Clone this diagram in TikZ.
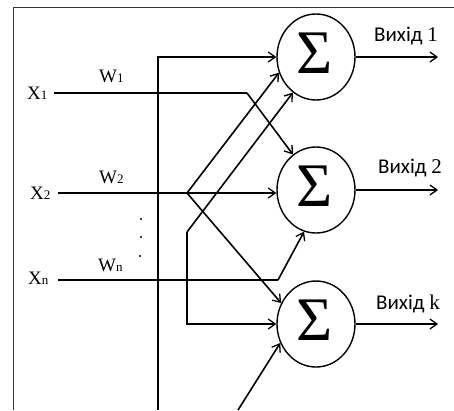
\documentclass[tikz,border=0pt]{standalone}
\usepackage{fontspec}
\setmainfont{Liberation Serif}
\newfontfamily\labelfont{Carlito}
\usetikzlibrary{arrows.meta,shapes.geometric}

\tikzset{
  wire/.style={line width=1.6pt, black, line join=miter},
  arr/.style={wire, -{Straight Barb[length=7pt,width=10pt,line width=1.3pt]}},
  frameline/.style={line width=0.8pt, black!80},
  sumnode/.style={ellipse, draw, line width=1.4pt, minimum width=78pt,
    minimum height=86pt, inner sep=0pt},
  sumsign/.style={font=\fontsize{62}{62}\selectfont, inner sep=0pt},
  inlabel/.style={anchor=base west, inner sep=0pt, font=\fontsize{19}{19}\selectfont},
  outlabel/.style={anchor=base west, inner sep=0pt, font=\fontsize{21}{21}\selectfont},
  dotmark/.style={circle, fill=black, inner sep=0pt, minimum size=2.4pt}
}
\newcommand{\sub}[1]{{\fontsize{13}{13}\selectfont #1}}

\begin{document}
\begin{tikzpicture}[x=1pt, y=-1pt]
  \useasboundingbox (0,0) rectangle (454,410);

  % frame
  \draw[frameline] (13,410) -- (13,7) -- (454,7);

  % summation units
  \node[sumnode] (c1) at (316,57) {};
  \node[sumnode] (c2) at (316,190) {};
  \node[sumnode] (c3) at (316,324) {};
  \node[sumsign] (s1) at (314.5,53) {Σ};
  \node[sumsign] (s2) at (314.5,186) {Σ};
  \node[sumsign] (s3) at (314.5,320) {Σ};

  % inputs and weights
  \node[inlabel] (x1) at (27,99) {X\sub{1}};
  \node[inlabel] (x2) at (30,199) {X\sub{2}};
  \node[inlabel] (xn) at (28,284) {X\sub{n}};
  \node[inlabel] (w1) at (99,82) {W\sub{1}};
  \node[inlabel] (w2) at (99,183) {W\sub{2}};
  \node[inlabel] (wn) at (98,271) {W\sub{n}};
  \node[dotmark] (d1) at (141,219) {};
  \node[dotmark] (d2) at (141,237) {};
  \node[dotmark] (d3) at (140,256) {};

  % routing points
  \coordinate (x1s) at (54,93);
  \coordinate (x1b) at (247,93);
  \coordinate (x2s) at (58,193);
  \coordinate (x2j) at (187,193);
  \coordinate (xns) at (58,280);
  \coordinate (xnb) at (278,280);
  \coordinate (v1b) at (158,410);
  \coordinate (v1t) at (158,57);
  \coordinate (v2t) at (187,232);
  \coordinate (v2b) at (187,324);
  \coordinate (lowin) at (238,410);

  % connections
  \draw[wire] (x1s) -- (x1b);
  \draw[arr] (x1b) -- (c2.123);
  \draw[arr] (x2s) -- (x2j -| c2.west);
  \draw[arr] (x2j) -- (c1.203);
  \draw[arr] (x2j) -- (c3.149);
  \draw[wire] (xns) -- (xnb);
  \draw[arr] (xnb) -- (c2.254);
  \draw[arr] (v1b) -- (v1t) -- (c1.west);
  \draw[arr] (v2t) -- (v2b) -- (c3.west);
  \draw[arr] (v2t) -- (c1.237);
  \draw[arr] (lowin) -- (c3.208);

  % outputs
  \coordinate (o1) at (438,57);
  \coordinate (o2) at (438,190);
  \coordinate (o3) at (438,324);
  \draw[arr] (c1.east) -- (o1);
  \draw[arr] (c2.east) -- (o2);
  \draw[arr] (c3.east) -- (o3);
  \node[outlabel] (y1) at (374,41) {\labelfont Вихід \rmfamily 1};
  \node[outlabel] (y2) at (378,173) {\labelfont Вихід \rmfamily 2};
  \node[outlabel] (yk) at (376,309) {\labelfont Вихід \rmfamily k};
\end{tikzpicture}
\end{document}
